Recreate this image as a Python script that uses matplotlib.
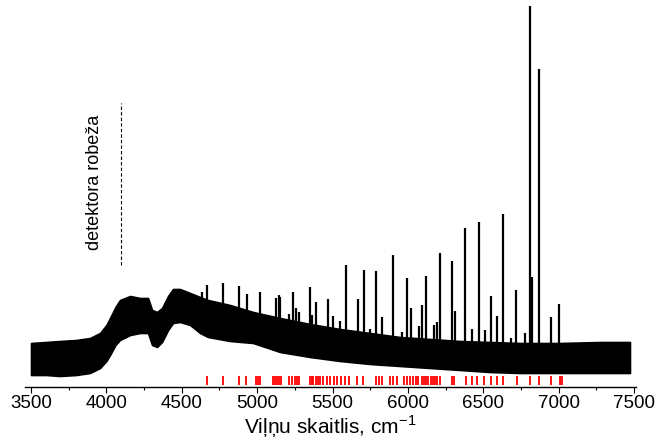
import numpy as np
import matplotlib
matplotlib.use("Agg")
import matplotlib.pyplot as plt

plt.rcParams['font.family'] = ['Liberation Sans', 'DejaVu Sans']
plt.rcParams['mathtext.fontset'] = 'custom'
plt.rcParams['mathtext.rm'] = 'Liberation Sans'

# noisy band envelope (wavenumber, upper, lower)
env_x = [3500, 3600, 3692, 3800, 3891, 3958, 4000, 4024, 4060, 4090, 4157, 4223,
         4276, 4303, 4336, 4369, 4409, 4442, 4488, 4555, 4621, 4674, 4820, 4973,
         5152, 5351, 5550, 5749, 5948, 6147, 6346, 6545, 6744, 7009, 7274, 7473]
env_top = [44, 45, 46, 47, 49, 54, 62, 69, 80, 87, 91, 89,
           89, 77, 75, 79, 91, 98, 98, 94, 90, 87, 82, 75,
           69, 63, 58, 54, 50, 48, 46, 45, 44, 44, 45, 45]
env_low = [12, 12, 11, 12, 14, 19, 26, 32, 42, 47, 52, 54,
           54, 42, 40, 45, 57, 64, 65, 62, 54, 50, 46, 44,
           35, 30, 26, 23, 21, 19, 17, 15, 14, 14, 14, 14]

# absorption peaks (position, height)
peak_x = [4634, 4667, 4774, 4880, 4933, 5019, 5125, 5145, 5152, 5211, 5238, 5258,
          5278, 5351, 5364, 5391, 5470, 5503, 5550, 5590, 5669, 5709, 5749, 5789,
          5828, 5901, 5961, 5994, 6021, 6074, 6094, 6120, 6173, 6193, 6213, 6293,
          6313, 6379, 6425, 6472, 6512, 6551, 6591, 6631, 6684, 6717, 6777, 6810,
          6823, 6870, 6949, 7002]
peak_y = [95, 102, 104, 101, 93, 95, 89, 92, 90, 73, 95, 79,
          75, 100, 72, 85, 88, 71, 66, 122, 88, 117, 58, 116,
          70, 132, 55, 109, 79, 61, 82, 111, 62, 65, 134, 126,
          76, 159, 58, 165, 57, 91, 71, 173, 49, 97, 54, 381,
          110, 318, 70, 83]

# line positions (red markers)
lines_x = [4669, 4776, 4882, 4926, 4993, 5004, 5019, 5103, 5119, 5130, 5143, 5156,
           5213, 5229, 5251, 5266, 5278, 5351, 5362, 5373, 5389, 5402, 5417, 5435,
           5462, 5483, 5510, 5532, 5554, 5585, 5609, 5661, 5704, 5787, 5808, 5830,
           5881, 5903, 5926, 5974, 5992, 6014, 6036, 6052, 6069, 6092, 6107, 6120,
           6135, 6151, 6165, 6180, 6195, 6213, 6295, 6308, 6384, 6423, 6461, 6505,
           6549, 6593, 6633, 6722, 6810, 6870, 6950, 7009, 7020]

fig = plt.figure(figsize=(6.66, 4.41), dpi=100)
ax = fig.add_axes([25 / 666, 54 / 441, 611 / 666, 387 / 441])

ax.fill_between(env_x, env_low, env_top, color='black', lw=1.2)
base = np.interp(peak_x, env_x, env_low) + 8
ax.vlines(peak_x, base, peak_y, color='black', lw=1.6)

ax.vlines(lines_x, 2, 11, color='#ff0000', lw=1.3)

ax.vlines([4100], 122, 284, color='black', lw=0.8, linestyles=(0, (3, 2)))
ax.text(3920, 205, 'detektora robeža', rotation=90, ha='center', va='center', fontsize=13)

ax.set_xlim(3460, 7513)
ax.set_ylim(0, 387)
ax.set_xticks(np.arange(3500, 7501, 500))
ax.set_xticks(np.arange(3500, 7501, 250), minor=True)
ax.tick_params(axis='x', which='major', direction='out', length=4, width=0.8, labelsize=13.5, pad=2)
ax.tick_params(axis='x', which='minor', direction='out', length=2, width=0.8)
ax.set_yticks([])
for s in ['left', 'right', 'top']:
    ax.spines[s].set_visible(False)
ax.spines['bottom'].set_linewidth(1.0)
ax.set_xlabel('Viļņu skaitlis, cm$^{\\mathregular{-1}}$', fontsize=15, labelpad=1)

fig.savefig('out.png', dpi=100)
